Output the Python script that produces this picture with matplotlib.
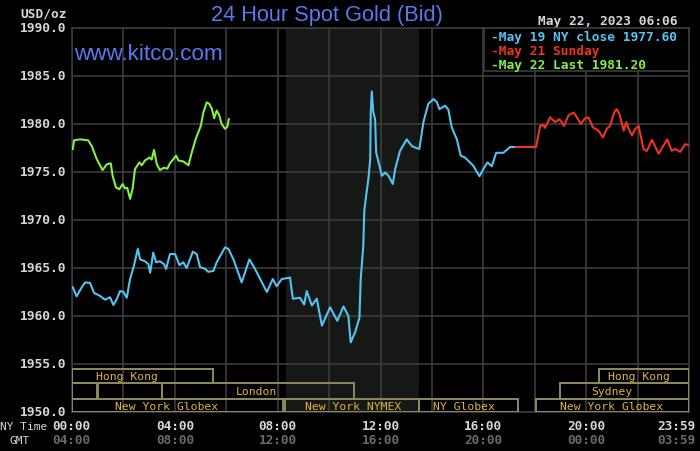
import matplotlib
matplotlib.use("Agg")
import matplotlib.pyplot as plt
from matplotlib.patches import Rectangle

# ---------------- data ----------------
green_hours = [0.03, 0.08, 0.31, 0.63, 0.77, 0.96, 1.19, 1.35, 1.51, 1.58, 1.71, 1.84, 1.97, 2.06,
               2.15, 2.26, 2.36, 2.45, 2.62, 2.71, 2.84, 3.01, 3.10, 3.19, 3.30, 3.42, 3.58, 3.71,
               3.81, 4.05, 4.14, 4.33, 4.53, 4.66, 4.82, 5.01, 5.11, 5.24, 5.34, 5.44, 5.53, 5.63,
               5.73, 5.82, 5.95, 6.04, 6.10]
green_vals = [1977.4, 1978.3, 1978.4, 1978.3, 1977.7, 1976.35, 1975.2, 1975.8, 1975.9, 1974.6,
              1973.4, 1973.2, 1973.75, 1973.3, 1973.35, 1972.2, 1973.3, 1975.3, 1976.0, 1975.7,
              1976.2, 1976.5, 1976.3, 1977.3, 1975.8, 1975.2, 1975.45, 1975.35, 1975.9, 1976.7,
              1976.2, 1976.1, 1975.7, 1977.05, 1978.5, 1979.8, 1981.2, 1982.25, 1982.1, 1981.6,
              1980.6, 1981.4, 1980.9, 1980.0, 1979.5, 1979.7, 1980.5]

blue_hours = [0.03, 0.18, 0.38, 0.51, 0.70, 0.86, 1.09, 1.28, 1.48, 1.61, 1.74, 1.87, 2.00, 2.13,
              2.26, 2.41, 2.56, 2.65, 2.84, 2.97, 3.04, 3.16, 3.27, 3.42, 3.58, 3.66, 3.81, 4.01,
              4.18, 4.33, 4.46, 4.70, 4.85, 4.98, 5.18, 5.30, 5.50, 5.63, 5.95, 6.08, 6.28, 6.60,
              6.80, 6.90, 7.12, 7.32, 7.58, 7.81, 7.96, 8.16, 8.48, 8.59, 8.87, 9.03, 9.13, 9.33,
              9.52, 9.72, 10.04, 10.32, 10.56, 10.75, 10.84, 11.01, 11.18, 11.23, 11.33, 11.37,
              11.44, 11.53, 11.60, 11.62, 11.66, 11.72, 11.79, 11.83, 11.96, 12.05, 12.18, 12.31,
              12.48, 12.57, 12.76, 13.02, 13.22, 13.39, 13.51, 13.67, 13.86, 14.06, 14.19, 14.29,
              14.51, 14.64, 14.77, 14.97, 15.12, 15.29, 15.61, 15.85, 16.00, 16.16, 16.33, 16.50,
              16.78, 17.04, 17.28]
blue_vals = [1963.0, 1962.05, 1963.0, 1963.5, 1963.45, 1962.4, 1962.1, 1961.7, 1961.95, 1961.15,
             1961.75, 1962.6, 1962.5, 1961.9, 1963.85, 1965.25, 1967.0, 1965.9, 1965.7, 1965.4,
             1964.5, 1966.6, 1965.6, 1965.7, 1965.4, 1964.9, 1966.45, 1966.45, 1965.3, 1965.6,
             1965.0, 1966.7, 1966.45, 1965.1, 1964.9, 1964.6, 1964.7, 1965.6, 1967.15, 1967.0,
             1965.9, 1963.5, 1965.1, 1965.9, 1964.9, 1963.85, 1962.5, 1963.85, 1963.1, 1963.85,
             1964.0, 1961.8, 1961.9, 1961.2, 1962.6, 1961.1, 1961.8, 1959.0, 1960.9, 1959.5,
             1961.0, 1960.0, 1957.25, 1958.3, 1959.8, 1963.85, 1967.3, 1971.0, 1972.5, 1974.3,
             1976.35, 1981.2, 1983.4, 1981.2, 1980.5, 1977.05, 1975.65, 1974.6, 1974.95, 1974.6,
             1973.75, 1975.3, 1977.2, 1978.4, 1977.7, 1977.5, 1977.4, 1980.2, 1982.1, 1982.6,
             1982.3, 1981.55, 1981.9, 1981.5, 1979.65, 1978.4, 1976.7, 1976.5, 1975.65, 1974.55,
             1975.3, 1976.0, 1975.6, 1977.0, 1977.0, 1977.6, 1977.6]

red_hours = [17.28, 18.05, 18.21, 18.34, 18.40, 18.60, 18.79, 18.96, 19.14, 19.31, 19.51, 19.64,
             19.79, 19.96, 20.09, 20.26, 20.48, 20.65, 20.80, 20.93, 21.09, 21.19, 21.30, 21.46,
             21.56, 21.65, 21.78, 21.91, 22.04, 22.23, 22.36, 22.56, 22.82, 23.15, 23.33, 23.46,
             23.66, 23.85, 24.0]
red_vals = [1977.6, 1977.6, 1979.8, 1979.9, 1979.6, 1980.7, 1980.2, 1980.5, 1979.8, 1980.9, 1981.2,
            1980.7, 1980.0, 1980.6, 1980.7, 1979.65, 1979.3, 1978.6, 1979.5, 1979.8, 1981.2,
            1981.55, 1981.0, 1979.3, 1980.2, 1979.55, 1978.8, 1979.5, 1979.8, 1977.4, 1977.2,
            1978.35, 1976.9, 1978.4, 1977.2, 1977.4, 1977.1, 1977.9, 1977.8]

y_ticks = [1950.0, 1955.0, 1960.0, 1965.0, 1970.0, 1975.0, 1980.0, 1985.0, 1990.0]
ny_time_pos = [0, 4, 8, 12, 16, 20, 23.98]
ny_time_labels = ["00:00", "04:00", "08:00", "12:00", "16:00", "20:00", "23:59"]
gmt_labels = ["04:00", "08:00", "12:00", "16:00", "20:00", "00:00", "03:59"]

legend_labels = ["May 19 NY close 1977.60", "May 21 Sunday", "May 22 Last 1981.20"]

# sessions: (row, start hour, end hour, label, label centre hour)
sessions = [
    (1, 0.0, 5.5, "Hong Kong", 2.14),
    (2, 0.0, 0.97, "", None),
    (2, 1.0, 3.49, "", None),
    (2, 3.49, 10.95, "London", 7.19),
    (3, 0.0, 8.22, "New York Globex", 3.66),
    (3, 8.29, 13.51, "New York NYMEX", 10.92),
    (3, 13.51, 17.35, "NY Globex", 15.23),
    (3, 18.05, 24.0, "New York Globex", 21.0),
    (2, 19.0, 24.0, "Sydney", 21.0),
    (1, 20.5, 24.0, "Hong Kong", 22.07),
]
row_bounds = {1: (1953.02, 1954.48), 2: (1951.35, 1953.02), 3: (1950.0, 1951.35)}

# ---------------- style ----------------
W, H = 700, 452
BG = "#000000"
GRID = "#3c3c3c"
SHADE = "#161816"
BLUE = "#55c3f2"
RED = "#ee3322"
GREEN = "#84f046"
TITLE = "#5a78f0"
TXT = "#d6d6d6"
GMT = "#6a6a6a"
SESS_EDGE = "#8e8a5e"
SESS_TXT = "#e0b43c"
MONO = "DejaVu Sans Mono"


def fx(x):
    return x / W


def fy(y):
    return 1 - y / H


fig = plt.figure(figsize=(7.0, 4.52), dpi=100, facecolor=BG)
ax = fig.add_axes([fx(72), fy(413), 617 / W, 384 / H], facecolor=BG)
ax.set_xlim(0, 24)
ax.set_ylim(1950, 1990)

# shaded NYMEX floor session
ax.axvspan(8.33, 13.5, color=SHADE, zorder=0, lw=0)

for h in range(0, 24, 2):
    ax.axvline(h, color=GRID, lw=1.2, zorder=1)
for v in y_ticks:
    ax.axhline(v, color=GRID, lw=1.2, zorder=1)

for s in ax.spines.values():
    s.set_color(GRID)
    s.set_linewidth(1.2)
ax.set_xticks([])
ax.set_yticks([])

# session boxes
for row, x0, x1, label, cx in sessions:
    y0, y1 = row_bounds[row]
    ax.add_patch(Rectangle((x0, y0), x1 - x0, y1 - y0, fill=False, ec=SESS_EDGE,
                           lw=1.4, zorder=3))
    if label:
        ax.text(cx, (y0 + y1) / 2, label, color=SESS_TXT, fontsize=8.2, family=MONO,
                ha="center", va="center", zorder=4)

ax.plot(blue_hours, blue_vals, color=BLUE, lw=1.5, zorder=5)
ax.plot(red_hours, red_vals, color=RED, lw=1.5, zorder=5)
ax.plot(green_hours, green_vals, color=GREEN, lw=1.5, zorder=6)

# y tick labels
for v in y_ticks:
    ax.text(-0.2, v, f"{v:.1f}", color=TXT, fontsize=9.3, family=MONO, weight="bold",
            ha="right", va="center")

fig.text(fx(67), fy(14), "USD/oz", color=TXT, fontsize=9.3, family=MONO, weight="bold",
         ha="right", va="center")

# x labels
for p, a, b in zip(ny_time_pos, ny_time_labels, gmt_labels):
    xp = 72 + p * 617 / 24
    if a == "23:59":
        xp = 676
    elif a == "00:00":
        xp = 71
    fig.text(fx(xp), fy(427), a, color=TXT, fontsize=9.2, family=MONO, weight="bold",
             ha="center", va="center")
    fig.text(fx(xp), fy(441), b, color=GMT, fontsize=9.2, family=MONO, weight="bold",
             ha="center", va="center")
fig.text(fx(24), fy(427), "NY Time", color=TXT, fontsize=8, family=MONO,
         ha="center", va="center")
fig.text(fx(20), fy(441), "GMT", color=TXT, fontsize=8, family=MONO,
         ha="center", va="center")

# title and site
fig.text(fx(327), fy(16), "24 Hour Spot Gold (Bid)", color=TITLE, fontsize=15.7,
         family="Liberation Sans", ha="center", va="center")
fig.text(fx(74), fy(54), "www.kitco.com", color=TITLE, fontsize=16.2,
         family="Liberation Sans", ha="left", va="center")
fig.text(fx(678), fy(22), "May 22, 2023 06:06", color=TXT, fontsize=9.3, family=MONO,
         weight="bold", ha="right", va="center")

# legend
fig.patches.append(Rectangle((fx(484), fy(72)), 205 / W, 43 / H, transform=fig.transFigure,
                             facecolor=BG, edgecolor=GRID, lw=1.2, zorder=10))
for i, (lab, col) in enumerate(zip(legend_labels, [BLUE, RED, GREEN])):
    fig.text(fx(491), fy(37 + i * 14), "-" + lab, color=col, fontsize=9.3, family=MONO,
             weight="bold", ha="left", va="center", zorder=11)

fig.savefig("out.png", dpi=100, facecolor=BG)
